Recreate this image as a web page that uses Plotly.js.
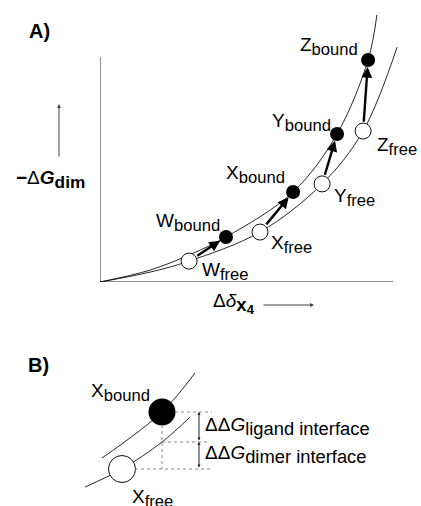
<!DOCTYPE html>
<html>
<head>
<meta charset="utf-8">
<script src="https://cdn.plot.ly/plotly-3.0.1.min.js"></script>
<style>
    html, body { margin: 0; padding: 0; background: #fff; }
    #chart { width: 421px; height: 506px; }
</style>
</head>
<body>
<div id="chart"></div>
<script>
// Panel A: four ligands, free and bound states (arbitrary units)
const pointNames = ['W', 'X', 'Y', 'Z'];
const freeX = [3.04, 5.46, 7.58, 8.98];
const freeY = [0.93, 2.22, 4.36, 6.71];
const boundX = [4.30, 6.59, 8.09, 9.15];
const boundY = [2.00, 4.00, 6.58, 9.87];

// the two curves
const upperCurveX = [0, 1.71, 3.04, 4.30, 6.59, 8.09, 9.15, 9.45];
const upperCurveY = [0, 0.53, 1.20, 2.00, 4.00, 6.58, 9.87, 11.87];
const lowerCurveX = [0, 1.71, 3.04, 5.46, 7.58, 8.98, 10.14];
const lowerCurveY = [0, 0.44, 0.93, 2.22, 4.36, 6.71, 10.44];

// Panel B: close-up of X
const closeBoundX = [8.2];
const closeBoundY = [8.3];
const closeFreeX = [4.2];
const closeFreeY = [2.6];
const closeUpperX = [2.2, 8.2, 11.5];
const closeUpperY = [3.7, 8.3, 12.2];
const closeLowerX = [0.5, 4.2, 8.2, 11.0];
const closeLowerY = [0.8, 2.6, 5.3, 7.8];

const W = 421, H = 506;
const px = v => v / W;
const py = v => 1 - v / H;
const FONT = 'Liberation Sans, Arial, Helvetica, sans-serif';

function lbl(main, sub, pct) {
    return main + '<sub><span style="font-size:' + (pct || 125) + '%">' + sub + '</span></sub>';
}

const curveLine = { color: '#111', width: 0.9, shape: 'spline', smoothing: 1 };

const traces = [
    { x: upperCurveX, y: upperCurveY, mode: 'lines', line: curveLine, xaxis: 'x', yaxis: 'y', hoverinfo: 'skip' },
    { x: lowerCurveX, y: lowerCurveY, mode: 'lines', line: curveLine, xaxis: 'x', yaxis: 'y', hoverinfo: 'skip' },
    { x: freeX, y: freeY, mode: 'markers', xaxis: 'x', yaxis: 'y', cliponaxis: false,
      marker: { size: 16, color: '#fff', line: { color: '#111', width: 1 } } },
    { x: boundX, y: boundY, mode: 'markers', xaxis: 'x', yaxis: 'y', cliponaxis: false,
      marker: { size: 14, color: '#000' } },
    { x: closeUpperX, y: closeUpperY, mode: 'lines', line: curveLine, xaxis: 'x2', yaxis: 'y2', hoverinfo: 'skip' },
    { x: closeLowerX, y: closeLowerY, mode: 'lines', line: curveLine, xaxis: 'x2', yaxis: 'y2', hoverinfo: 'skip' },
    { x: closeFreeX, y: closeFreeY, mode: 'markers', xaxis: 'x2', yaxis: 'y2', cliponaxis: false,
      marker: { size: 27, color: '#fff', line: { color: '#111', width: 1 } } },
    { x: closeBoundX, y: closeBoundY, mode: 'markers', xaxis: 'x2', yaxis: 'y2', cliponaxis: false,
      marker: { size: 27, color: '#000' } }
];

// label offsets in pixels (right of / below the marker is positive)
const boundLabelShift = [[-4, -15], [-6, -18], [-4, -11], [-8, -13]];
const freeLabelShift = [[11, 10], [9, 12], [10, 14], [12, 15]];

const annotations = [];
const labelFont = { family: FONT, size: 19, color: '#000' };

pointNames.forEach((n, i) => {
    // arrow free -> bound
    annotations.push({
        x: boundX[i], y: boundY[i], ax: freeX[i], ay: freeY[i],
        xref: 'x', yref: 'y', axref: 'x', ayref: 'y',
        text: '', showarrow: true, arrowhead: 2, arrowsize: 0.9, arrowwidth: 2.4,
        arrowcolor: '#000', standoff: 7, startstandoff: 8
    });
    annotations.push({
        x: boundX[i], y: boundY[i], xref: 'x', yref: 'y', showarrow: false,
        text: lbl(n, 'bound'), font: labelFont, xanchor: 'right', yanchor: 'middle',
        xshift: boundLabelShift[i][0], yshift: -boundLabelShift[i][1]
    });
    annotations.push({
        x: freeX[i], y: freeY[i], xref: 'x', yref: 'y', showarrow: false,
        text: lbl(n, 'free'), font: labelFont, xanchor: 'left', yanchor: 'middle',
        xshift: freeLabelShift[i][0], yshift: -freeLabelShift[i][1]
    });
});

// panel letters and axis titles
annotations.push(
    { x: px(27), y: py(31), xref: 'paper', yref: 'paper', showarrow: false, xanchor: 'left', yanchor: 'middle',
      text: '<b>A)</b>', font: { family: FONT, size: 20, color: '#000' } },
    { x: px(26), y: py(365), xref: 'paper', yref: 'paper', showarrow: false, xanchor: 'left', yanchor: 'middle',
      text: '<b>B)</b>', font: { family: FONT, size: 20, color: '#000' } },
    { x: px(14), y: py(180), xref: 'paper', yref: 'paper', showarrow: false, xanchor: 'left', yanchor: 'middle',
      text: '<b>−</b>Δ<b><i>G</i><sub><span style="font-size:130%">dim</span></sub></b>',
      font: { family: FONT, size: 19, color: '#000' } },
    { x: px(59), y: py(104), xref: 'paper', yref: 'paper', ax: 0, ay: 54,
      text: '', showarrow: true, arrowhead: 2, arrowsize: 0.8, arrowwidth: 1, arrowcolor: '#444' },
    { x: px(211), y: py(303), xref: 'paper', yref: 'paper', showarrow: false, xanchor: 'left', yanchor: 'middle',
      text: 'Δ<i>δ</i><sub><b><span style="font-size:140%">x</span><sub><span style="font-size:140%">4</span></sub></b></sub>',
      font: { family: FONT, size: 19, color: '#000' } },
    { x: px(314), y: py(305), xref: 'paper', yref: 'paper', ax: -52, ay: 0,
      text: '', showarrow: true, arrowhead: 2, arrowsize: 0.8, arrowwidth: 1, arrowcolor: '#444' }
);

// panel B labels and energy gaps
const gapX = 11.9;
const midY = closeLowerY[2];
const closeFont = { family: FONT, size: 19, color: '#000' };
annotations.push(
    { x: closeBoundX[0], y: closeBoundY[0], xref: 'x2', yref: 'y2', showarrow: false,
      text: lbl('X', 'bound'), font: closeFont, xanchor: 'right', yanchor: 'middle', xshift: -10, yshift: 20 },
    { x: closeFreeX[0], y: closeFreeY[0], xref: 'x2', yref: 'y2', showarrow: false,
      text: lbl('X', 'free'), font: closeFont, xanchor: 'left', yanchor: 'middle', xshift: 8, yshift: -29 },
    { x: gapX, y: closeBoundY[0], ax: gapX, ay: midY, xref: 'x2', yref: 'y2', axref: 'x2', ayref: 'y2',
      text: '', showarrow: true, arrowside: 'end+start', arrowhead: 2, arrowsize: 0.6, arrowwidth: 1, arrowcolor: '#222' },
    { x: gapX, y: midY, ax: gapX, ay: closeFreeY[0], xref: 'x2', yref: 'y2', axref: 'x2', ayref: 'y2',
      text: '', showarrow: true, arrowside: 'end+start', arrowhead: 2, arrowsize: 0.6, arrowwidth: 1, arrowcolor: '#222' },
    { x: gapX, y: (closeBoundY[0] + midY) / 2, xref: 'x2', yref: 'y2', showarrow: false, xanchor: 'left', yanchor: 'middle',
      xshift: 4, yshift: 1, text: lbl('ΔΔ<i>G</i>', 'ligand interface', 138),
      font: { family: FONT, size: 19, color: '#000' } },
    { x: gapX, y: (midY + closeFreeY[0]) / 2, xref: 'x2', yref: 'y2', showarrow: false, xanchor: 'left', yanchor: 'middle',
      xshift: 4, yshift: 1, text: lbl('ΔΔ<i>G</i>', 'dimer interface', 138),
      font: { family: FONT, size: 19, color: '#000' } }
);

const dotted = { color: '#888', width: 1, dash: 'dot' };
const axisLine = { color: '#222', width: 1 };
const shapes = [
    // panel A axes
    { type: 'line', xref: 'x', yref: 'y', x0: 0, y0: 0, x1: 10, y1: 0, line: axisLine },
    { type: 'line', xref: 'x', yref: 'y', x0: 0, y0: 0, x1: 0, y1: 10, line: axisLine },
    // panel B guide lines
    { type: 'line', xref: 'x2', yref: 'y2', x0: 9.5, y0: closeBoundY[0], x1: 13.2, y1: closeBoundY[0], line: dotted },
    { type: 'line', xref: 'x2', yref: 'y2', x0: closeBoundX[0], y0: midY, x1: 13.0, y1: midY, line: dotted },
    { type: 'line', xref: 'x2', yref: 'y2', x0: 5.5, y0: closeFreeY[0], x1: 13.0, y1: closeFreeY[0], line: dotted },
    { type: 'line', xref: 'x2', yref: 'y2', x0: closeBoundX[0], y0: 7.0, x1: closeBoundX[0], y1: closeFreeY[0], line: dotted }
];

const hidden = { visible: false, fixedrange: true };
const layout = {
    width: W, height: H,
    margin: { l: 0, r: 0, t: 0, b: 0 },
    paper_bgcolor: '#fff', plot_bgcolor: 'rgba(0,0,0,0)',
    showlegend: false,
    font: { family: FONT, color: '#000' },
    xaxis: Object.assign({ domain: [px(100), px(400)], range: [0, 300 / 29.3] }, hidden),
    yaxis: Object.assign({ domain: [py(282), py(10)], range: [0, 272 / 22.5] }, hidden),
    xaxis2: Object.assign({ domain: [px(80), px(220)], range: [0, 14], anchor: 'y2' }, hidden),
    yaxis2: Object.assign({ domain: [py(495), py(370)], range: [0, 12.5], anchor: 'x2' }, hidden),
    annotations: annotations,
    shapes: shapes
};

Plotly.newPlot('chart', traces, layout, { displayModeBar: false, staticPlot: true });
</script>
</body>
</html>
